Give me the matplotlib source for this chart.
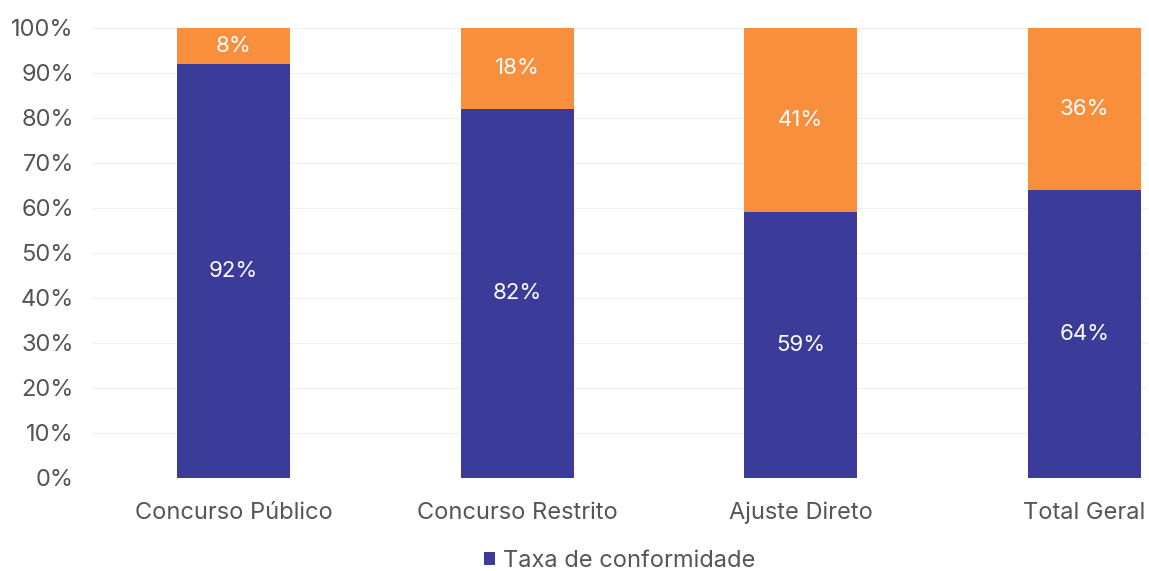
import matplotlib.pyplot as plt
import numpy as np

plt.rcParams['font.family'] = ['Inter', 'DejaVu Sans']

categorias = ["Concurso Público", "Concurso Restrito", "Ajuste Direto", "Total Geral"]
conformidade = [92, 82, 59, 64]
nao_conformidade = [8, 18, 41, 36]

azul = "#3b3c9a"
laranja = "#f98e3c"
cinza = "#555555"

fig = plt.figure(figsize=(11.49, 5.71), dpi=100)
ax = fig.add_axes([0.080, 0.163, 0.918, 0.788])

x = np.arange(len(categorias))
b1 = ax.bar(x, conformidade, width=0.4, color=azul, label="Taxa de conformidade", zorder=2)
b2 = ax.bar(x, nao_conformidade, width=0.4, bottom=conformidade, color=laranja, zorder=2)

for i in range(len(x)):
    ax.text(x[i], conformidade[i] / 2, f"{conformidade[i]}%", ha="center", va="center",
            color="white", fontsize=16)
    ax.text(x[i], conformidade[i] + nao_conformidade[i] / 2, f"{nao_conformidade[i]}%",
            ha="center", va="center", color="white", fontsize=16)

ax.set_xlim(-0.5, 3.22)
ax.set_ylim(0, 100)
ax.set_yticks(range(0, 101, 10))
ax.set_yticklabels([f"{v}%" for v in range(0, 101, 10)])
ax.set_xticks(x)
ax.set_xticklabels(categorias)
ax.tick_params(axis="both", length=0, labelsize=17, colors=cinza)
ax.tick_params(axis="x", pad=17)
ax.tick_params(axis="y", pad=13)
ax.yaxis.grid(True, color="#f0f0f0", linewidth=0.8, zorder=0)
for s in ax.spines.values():
    s.set_visible(False)

ax.legend(handles=[b1], loc="upper center", bbox_to_anchor=(0.5, -0.16), frameon=False,
          fontsize=17, labelcolor=cinza, handlelength=0.5, handleheight=0.5,
          handletextpad=0.3, borderpad=0.0, borderaxespad=0.0)

fig.savefig("out.png", dpi=100)
